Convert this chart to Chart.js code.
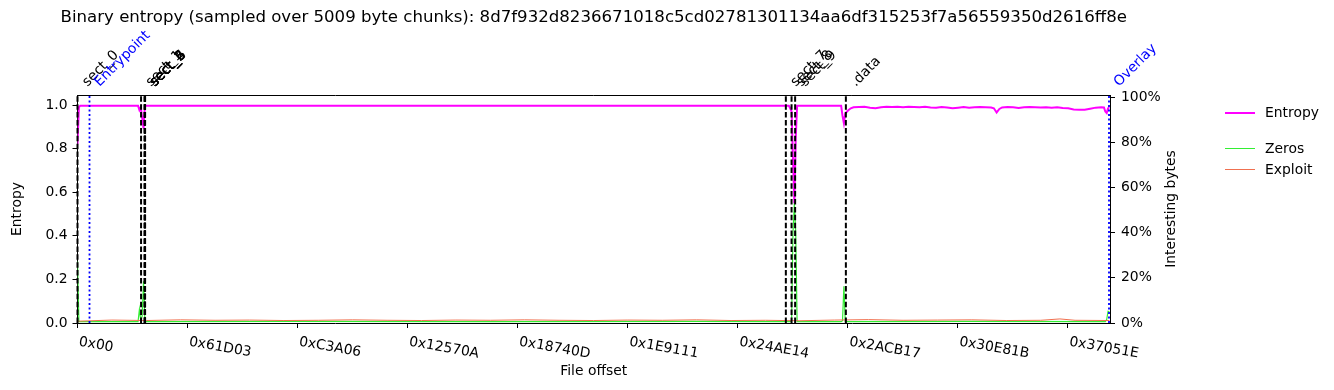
<!DOCTYPE html>
<html>
<head>
<meta charset="utf-8">
<title>Binary entropy</title>
<script src="https://cdn.jsdelivr.net/npm/chart.js@4.4.1/dist/chart.umd.min.js"></script>
<style>
  html, body { margin: 0; padding: 0; background: #fff; }
  #wrap { width: 1334px; height: 390px; }
</style>
</head>
<body>
<div id="wrap"><canvas id="entropyChart" width="1334" height="390"></canvas></div>
<script>
// chunk size and file length (bytes)
const chunkSize = 5009;
const fileSize = 3758760;
const sampleHash = '8d7f932d8236671018c5cd02781301134aa6df315253f7a56559350d2616ff8e';

// x axis tick labels (file offsets)
const xTickLabels = ['0x00', '0x61D03', '0xC3A06', '0x12570A', '0x18740D',
                     '0x1E9111', '0x24AE14', '0x2ACB17', '0x30E81B', '0x37051E'];
const yTickValues = [0, 0.2, 0.4, 0.6, 0.8, 1.0];
const pctTickValues = [0, 20, 40, 60, 80, 100];

// sections (byte offsets)
const sectionNames = ['sect_0', 'sect_1', 'sect_2', 'sect_3', 'sect_4', 'sect_5', 'sect_6',
                      'sect_7', 'sect_8', 'sect_9', '.data'];
const sectionOffsets = [0, 231400, 244500, 244900, 245300, 245700, 246100,
                        2578700, 2599500, 2612500, 2797200];
const entrypointOffset = 43700;
const overlayOffset = 3755100;

// entropy per chunk (chunk index -> 0..1)
const entropyChunks = [0, 1, 2, 44, 45, 46, 47, 48, 49, 516, 517, 518, 519, 520, 521, 522, 523,
  555, 556, 557, 558, 559, 560, 562, 564, 568, 572, 576, 580, 584, 588, 592, 596, 600, 604,
  608, 612, 616, 620, 624, 628, 632, 636, 640, 644, 648, 652, 656, 660, 664, 666, 668, 670,
  672, 676, 680, 684, 688, 692, 696, 700, 704, 708, 712, 716, 720, 724, 728, 732, 736, 740,
  744, 746, 747, 748, 749, 750];
const entropyValues = [0.82, 0.99, 0.997, 0.997, 0.977, 0.99, 0.94, 0.893, 0.997, 0.997, 0.997, 0.985, 0.97, 0.75, 0.55, 0.85, 0.997,
  0.997, 0.95, 0.916, 0.962, 0.968, 0.975, 0.985, 0.99, 0.991, 0.992, 0.988, 0.985, 0.990, 0.992, 0.991, 0.992, 0.990, 0.992,
  0.991, 0.990, 0.992, 0.989, 0.988, 0.991, 0.989, 0.985, 0.988, 0.991, 0.988, 0.990, 0.991, 0.990, 0.989, 0.985, 0.966, 0.982,
  0.989, 0.991, 0.990, 0.986, 0.990, 0.991, 0.990, 0.989, 0.990, 0.988, 0.990, 0.986, 0.985, 0.980, 0.978, 0.978, 0.983, 0.988,
  0.990, 0.989, 0.970, 0.963, 0.985, 0.990];

// share of zero bytes per chunk (%)
const zerosChunks = [0, 1, 44, 45, 46, 47, 48, 49, 150, 300, 450, 518, 519, 520, 521, 522, 523,
  555, 556, 557, 558, 650, 747, 748, 749, 750];
const zerosValues = [27.3, 0.6, 0.6, 6, 1, 3, 18.5, 0.6, 0.7, 0.6, 0.7, 0.6, 1, 40, 53, 40, 0.6,
  0.6, 1, 16.3, 0.6, 0.7, 0.6, 1.5, 5.2, 5.0];

// share of exploit-like bytes per chunk (%)
const exploitChunks = [0, 25, 50, 75, 100, 125, 150, 175, 200, 225, 250, 275, 300, 325, 350, 375,
  400, 425, 450, 475, 500, 525, 550, 575, 600, 625, 650, 675, 700, 714, 725, 750];
const exploitValues = [0.8, 1.3, 1.1, 1.4, 1.2, 1.3, 1.1, 1.2, 1.4, 1.2, 1.1, 1.3, 1.2, 1.4, 1.2, 1.1,
  1.3, 1.2, 1.4, 1.1, 1.2, 1.0, 1.3, 1.5, 1.2, 1.3, 1.4, 1.1, 1.2, 1.8, 1.2, 1.1];

const FONT = 'DejaVu Sans';
const magenta = '#ff00ff';
const zerosColor = '#33ee33';
const exploitColor = '#f07050';

function toPoints(chunks, values) {
  return chunks.map((c, i) => ({ x: c * chunkSize, y: values[i] }));
}

const xTickValues = xTickLabels.map(s => parseInt(s, 16));

const overlayPlugin = {
  id: 'overlayPlugin',
  afterDatasetsDraw(chart) {
    const { ctx, chartArea: a, scales: { x } } = chart;
    ctx.save();
    // frame top
    ctx.strokeStyle = '#000';
    ctx.lineWidth = 1;
    ctx.beginPath();
    ctx.moveTo(a.left, a.top + 0.5);
    ctx.lineTo(a.right, a.top + 0.5);
    ctx.stroke();

    function vline(off, color, dash, lw) {
      const px = x.getPixelForValue(off);
      ctx.strokeStyle = color;
      ctx.lineWidth = lw;
      ctx.setLineDash(dash);
      ctx.beginPath();
      ctx.moveTo(px, a.bottom);
      ctx.lineTo(px, a.top);
      ctx.stroke();
    }
    sectionOffsets.forEach(o => vline(o, '#000', [5.5, 2.4], 2));
    vline(entrypointOffset, '#0000ff', [2, 2.5], 1.8);
    vline(overlayOffset, '#0000ff', [2, 2.5], 1.8);
    ctx.restore();
  },
  afterDraw(chart) {
    const { ctx, chartArea: a, scales: { x } } = chart;
    ctx.save();
    ctx.setLineDash([]);

    // labels above the plot
    ctx.font = '13.9px "' + FONT + '"';
    ctx.textAlign = 'left';
    ctx.textBaseline = 'alphabetic';
    function topLabel(off, text, color) {
      const px = x.getPixelForValue(off);
      ctx.save();
      ctx.translate(px + 10, a.top - 8);
      ctx.rotate(-Math.PI / 4);
      ctx.fillStyle = color;
      ctx.fillText(text, 0, 0);
      ctx.restore();
    }
    sectionOffsets.forEach((o, i) => topLabel(o, sectionNames[i], '#000'));
    topLabel(entrypointOffset, 'Entrypoint', '#0000ff');
    topLabel(overlayOffset, 'Overlay', '#0000ff');

    // x tick labels, rotated
    ctx.fillStyle = '#000';
    ctx.textBaseline = 'top';
    xTickValues.forEach((v, i) => {
      const px = x.getPixelForValue(v);
      ctx.save();
      ctx.translate(px + 2.7, a.bottom + 12);
      ctx.rotate(10 * Math.PI / 180);
      ctx.fillText(xTickLabels[i], 0, 0);
      ctx.restore();
    });

    // right axis title
    ctx.save();
    ctx.translate(1171, (a.top + a.bottom) / 2);
    ctx.rotate(-Math.PI / 2);
    ctx.textAlign = 'center';
    ctx.textBaseline = 'middle';
    ctx.fillText('Interesting bytes', 0, 0);
    ctx.restore();

    // title
    ctx.font = '16.6px "' + FONT + '"';
    ctx.textAlign = 'center';
    ctx.textBaseline = 'middle';
    ctx.fillText('Binary entropy (sampled over ' + chunkSize + ' byte chunks): ' + sampleHash,
                 (a.left + a.right) / 2, 18);

    // legend
    const items = [
      { text: 'Entropy', color: magenta, lw: 2, y: 113 },
      { text: 'Zeros', color: zerosColor, lw: 1, y: 148.5 },
      { text: 'Exploit', color: exploitColor, lw: 1, y: 169.5 }
    ];
    ctx.font = '13.9px "' + FONT + '"';
    ctx.textAlign = 'left';
    items.forEach(it => {
      ctx.strokeStyle = it.color;
      ctx.lineWidth = it.lw;
      ctx.beginPath();
      ctx.moveTo(1225, it.y);
      ctx.lineTo(1255, it.y);
      ctx.stroke();
      ctx.fillStyle = '#000';
      ctx.fillText(it.text, 1265, Math.round(it.y));
    });
    ctx.restore();
  }
};

const axisFont = { family: FONT, size: 13.9 };
const gridOpts = { drawOnChartArea: false, drawTicks: true, tickLength: 5, color: '#000', lineWidth: 1 };
const borderOpts = { display: true, color: '#000', width: 1 };

const entropyChart = new Chart(document.getElementById('entropyChart'), {
  type: 'line',
  data: {
    datasets: [
      {
        label: 'Exploit',
        data: toPoints(exploitChunks, exploitValues),
        yAxisID: 'y1',
        borderColor: exploitColor,
        borderWidth: 1,
        pointRadius: 0,
        tension: 0
      },
      {
        label: 'Zeros',
        data: toPoints(zerosChunks, zerosValues),
        yAxisID: 'y1',
        borderColor: zerosColor,
        borderWidth: 1.2,
        pointRadius: 0,
        tension: 0
      },
      {
        label: 'Entropy',
        data: toPoints(entropyChunks, entropyValues),
        yAxisID: 'y',
        borderColor: magenta,
        borderWidth: 2,
        pointRadius: 0,
        tension: 0
      }
    ]
  },
  options: {
    responsive: false,
    animation: false,
    devicePixelRatio: 1,
    events: [],
    layout: { padding: { top: 95, left: 0, right: 0, bottom: 0 } },
    plugins: {
      legend: { display: false },
      tooltip: { enabled: false },
      title: { display: false }
    },
    scales: {
      x: {
        type: 'linear',
        min: 0,
        max: fileSize,
        afterBuildTicks: s => { s.ticks = xTickValues.map(v => ({ value: v })); },
        ticks: { display: false, autoSkip: false },
        grid: gridOpts,
        border: borderOpts,
        title: { display: true, text: 'File offset', color: '#000', font: axisFont, padding: { top: 0, bottom: 10 } },
        afterFit: s => { s.height = 67; }
      },
      y: {
        position: 'left',
        min: 0,
        max: 1.046,
        afterBuildTicks: s => { s.ticks = yTickValues.map(v => ({ value: v })); },
        ticks: { callback: v => v.toFixed(1), color: '#000', font: axisFont, padding: 5 },
        grid: gridOpts,
        border: borderOpts,
        title: { display: true, text: 'Entropy', color: '#000', font: axisFont, padding: { top: 9, bottom: 0 } },
        afterFit: s => { s.width = 77.5; }
      },
      y1: {
        position: 'right',
        min: 0,
        max: 101,
        afterBuildTicks: s => { s.ticks = pctTickValues.map(v => ({ value: v })); },
        ticks: { callback: v => v + '%', color: '#000', font: axisFont, padding: 6 },
        grid: gridOpts,
        border: borderOpts,
        afterFit: s => { s.width = 224; }
      }
    }
  },
  plugins: [overlayPlugin]
});
</script>
</body>
</html>
